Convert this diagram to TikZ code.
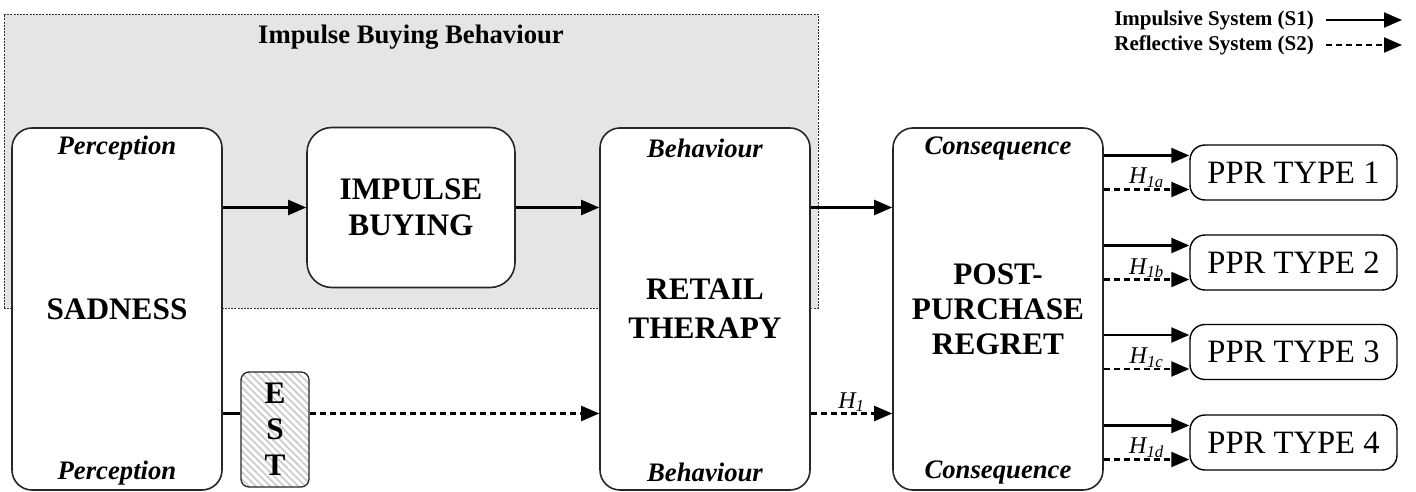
\documentclass[tikz,border=0pt]{standalone}
\usepackage{fontspec}
\setmainfont{Liberation Serif}
\usepackage{tikz}
\usetikzlibrary{positioning, arrows.meta, patterns.meta, calc}

\begin{document}
\begin{tikzpicture}[
            x=1pt, y=1pt,
            >={Triangle[length=18pt, width=15pt]},
            impulsive/.style={->, line width=2.2pt},
            reflective/.style={->, line width=2.2pt, dash pattern=on 6pt off 4pt},
            group/.style={draw=black!80, line width=0.9pt, dash pattern=on 2pt off 1.2pt, fill=black!10, inner sep=0pt},
            heading/.style={font=\fontsize{26.7}{30}\selectfont\bfseries, inner sep=0pt},
            stage/.style={draw=black!85, line width=1.6pt, rounded corners=20pt, fill=white, align=center, inner sep=0pt, minimum width=210pt, minimum height=362pt, font=\fontsize{31.3}{36}\selectfont\bfseries},
            core/.style={stage, rounded corners=25pt, minimum width=208pt, minimum height=160pt},
            strip/.style={draw=black!85, line width=1.3pt, rounded corners=8pt, pattern={Lines[angle=-45, distance=5pt, line width=1.8pt]}, pattern color=black!20, minimum width=68pt, minimum height=115pt, inner sep=0pt, align=center, font=\fontsize{31.3}{36}\selectfont\bfseries},
            tag/.style={font=\fontsize{26.7}{30}\selectfont\bfseries\itshape, inner sep=0pt},
            outcome/.style={draw, line width=1.4pt, rounded corners=15pt, fill=white, minimum width=207pt, minimum height=55pt, inner sep=0pt, font=\fontsize{32.6}{36}\selectfont},
            hyp/.style={font=\fontsize{24}{26}\selectfont\itshape, inner sep=0.5pt},
            legend/.style={font=\fontsize{21}{24}\selectfont\bfseries, inner sep=0pt},
        ]
        \useasboundingbox (0,0) rectangle (1416,-492);

        % Draw the impulse buying group
        \node[group, minimum width=814pt, minimum height=294pt] (ibb) at (411,-161) {};
        \node[heading] (ibb-title) at (411,-37) {Impulse Buying Behaviour};

        % Draw the stages
        \node[stage] (sadness) at (117,-309) {SADNESS};
        \node[core] (impulse) at (411,-207.5) {IMPULSE\\BUYING};
        \node[stage] (retail) at (705,-309) {RETAIL\\[3pt]THERAPY};
        \node[stage] (regret) at (998,-309) {POST-\\[-1pt]PURCHASE\\[-1pt]REGRET};
        \node[strip] (est) at (275,-429.5) {E\\S\\T};

        % Stage tags on top and bottom
        \foreach \n/\w in {sadness/Perception, retail/Behaviour, regret/Consequence} {
            \node[tag] (\n-top) at ([yshift=-21pt]\n.north) {\w};
            \node[tag] (\n-bottom) at ([yshift=18pt]\n.south) {\w};
        }

        % Draw the outcome nodes
        \foreach \k/\y in {1/172.5, 2/262.5, 3/352, 4/442.5}
        \node[outcome] (P-\k) at (1293.5,-\y) {PPR TYPE \k};

        % Connect the stages, impulsive system
        \draw[impulsive] (sadness.east |- impulse.west) -- (impulse.west);
        \draw[impulsive] (impulse.east) -- (retail.west |- impulse.east);
        \draw[impulsive] (retail.east |- impulse.east) -- (regret.west |- impulse.east);

        % Connect the stages, reflective system
        \coordinate (low) at (0,-413.5);
        \draw[line width=2.2pt] (sadness.east |- low) -- (est.west |- low);
        \draw[reflective] (est.east |- low) -- (retail.west |- low);
        \draw[reflective] (retail.east |- low) -- node[hyp, above] {H\textsubscript{1}} (regret.west |- low);

        % Connect the regret node with every outcome node
        \foreach \k/\s in {1/a, 2/b, 3/c, 4/d} {
            \coordinate (P-\k-s1) at ([yshift=17pt]P-\k.west);
            \coordinate (P-\k-s2) at ([yshift=-17pt]P-\k.west);
            \draw[impulsive] (regret.east |- P-\k-s1) -- (P-\k-s1);
            \draw[reflective] (regret.east |- P-\k-s2) -- node[hyp, above] {H\textsubscript{1\s}} (P-\k-s2);
        }

        % Legend
        \node[legend, anchor=east] (S1) at (1314,-20) {Impulsive System (S1)};
        \node[legend, anchor=east] (S2) at (1314,-45) {Reflective System (S2)};
        \coordinate (S1-end) at (1402,-20);
        \coordinate (S2-end) at (1402,-45);
        \draw[impulsive] ([xshift=12pt]S1.east) -- (S1-end);
        \draw[reflective] ([xshift=12pt]S2.east) -- (S2-end);
    \end{tikzpicture}
\end{document}
